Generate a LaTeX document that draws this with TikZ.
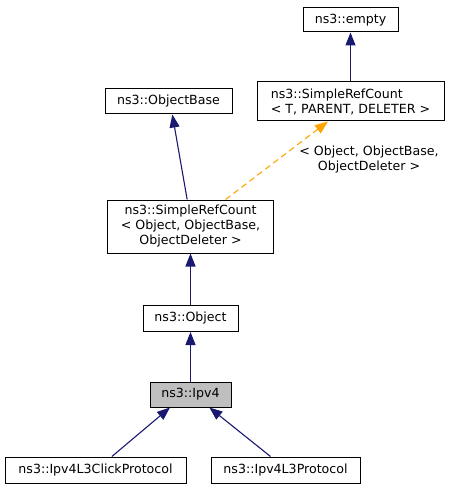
\documentclass[tikz,border=0pt]{standalone}
\usepackage{fontspec}
\setmainfont{DejaVu Sans}
\usetikzlibrary{positioning,calc,arrows.meta}
\definecolor{dxblue}{HTML}{191970}
\definecolor{dxorange}{HTML}{FFA500}
\begin{document}
\begin{tikzpicture}[x=1pt,y=-1pt,
  cls/.style={draw=black,line width=1pt,inner sep=0pt,fill=white,font=\fontsize{12.6}{15}\selectfont},
  inh/.style={<-,draw=dxblue,line width=1.1pt},
  tmpl/.style={<-,draw=dxorange,line width=1.1pt,dash pattern=on 6pt off 4pt},
  >={Triangle[length=13pt,width=10pt]}]
\useasboundingbox (0,0) rectangle (449,489);
\node [cls,minimum width=95,minimum height=24] (Nempty) at (350.5,20) {ns3::empty};
\node [cls,minimum width=187,minimum height=39,align=left] (NSRCt) at (350.5,101.5) {ns3::SimpleRefCount\\< T, PARENT, DELETER >};
\node [cls,minimum width=127,minimum height=25] (NObase) at (168.5,101.5) {ns3::ObjectBase};
\node [cls,minimum width=166,minimum height=53,align=center] (NSRCo) at (190.5,226.5) {ns3::SimpleRefCount\\< Object, ObjectBase,\\ObjectDeleter >};
\node [cls,minimum width=95,minimum height=26] (NObj) at (190.5,318.5) {ns3::Object};
\node [cls,minimum width=81,minimum height=25,fill={rgb,255:red,191;green,191;blue,191}] (NIpv) at (190.5,394.5) {ns3::Ipv4};
\node [cls,minimum width=181,minimum height=26] (NClick) at (95.5,470) {ns3::Ipv4L3ClickProtocol};
\node [cls,minimum width=149,minimum height=26] (NLthree) at (285.5,470) {ns3::Ipv4L3Protocol};
\node [font=\fontsize{12.6}{15}\selectfont,align=center] (Ltmpl) at (369,160) {< Object, ObjectBase,\\ObjectDeleter >};
\draw [inh] (Nempty) -- (NSRCt);
\draw [inh] ($(NObase.south west)!0.53!(NObase.south east)$) -- ($(NSRCo.north west)!0.48!(NSRCo.north east)$);
\draw [tmpl] ($(NSRCt.south west)!0.38!(NSRCt.south east)$) -- ($(NSRCo.north west)!0.71!(NSRCo.north east)$);
\draw [inh] (NSRCo) -- (NObj);
\draw [inh] (NObj) -- (NIpv);
\draw [inh] ($(NIpv.south west)!0.25!(NIpv.south east)$) -- ($(NClick.north west)!0.59!(NClick.north east)$);
\draw [inh] ($(NIpv.south west)!0.73!(NIpv.south east)$) -- ($(NLthree.north west)!0.4!(NLthree.north east)$);
\end{tikzpicture}
\end{document}
